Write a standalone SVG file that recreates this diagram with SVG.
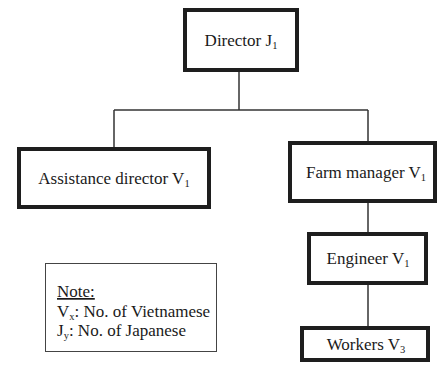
<svg xmlns="http://www.w3.org/2000/svg" width="438" height="365" viewBox="0 0 438 365">
  <style>
    .box { fill: #ffffff; stroke: #1e1e1e; stroke-width: 4; }
    .note { fill: #ffffff; stroke: #444444; stroke-width: 1; }
    .conn { fill: none; stroke: #333333; stroke-width: 1.5; }
    .lbl { font-family: 'Liberation Serif', 'Times New Roman', serif; font-size: 17px; fill: #1a1a1a; }
    .sub { font-size: 10.5px; }
  </style>
  <rect width="438" height="365" fill="#ffffff"/>

  <!-- connectors -->
  <g id="connectors">
    <line class="conn" x1="239" y1="72" x2="239" y2="110"/>
    <line class="conn" x1="114" y1="110" x2="368" y2="110"/>
    <line class="conn" x1="114" y1="110" x2="114" y2="147"/>
    <line class="conn" x1="368" y1="110" x2="368" y2="141"/>
    <line class="conn" x1="368" y1="203" x2="368" y2="232"/>
    <line class="conn" x1="368" y1="285" x2="368" y2="326"/>
  </g>

  <g id="director">
    <rect class="box" x="185" y="10" width="112" height="60"/>
    <text class="lbl" x="241" y="46" text-anchor="middle">Director J<tspan class="sub" dy="3">1</tspan></text>
  </g>

  <g id="assistance-director">
    <rect class="box" x="19" y="149" width="190" height="58"/>
    <text class="lbl" x="114" y="184" text-anchor="middle">Assistance director V<tspan class="sub" dy="3">1</tspan></text>
  </g>

  <g id="farm-manager">
    <rect class="box" x="290" y="143" width="145" height="58"/>
    <text class="lbl" x="366" y="178" text-anchor="middle">Farm manager V<tspan class="sub" dy="3">1</tspan></text>
  </g>

  <g id="engineer">
    <rect class="box" x="309" y="234" width="117" height="49"/>
    <text class="lbl" x="368" y="264" text-anchor="middle">Engineer V<tspan class="sub" dy="3">1</tspan></text>
  </g>

  <g id="workers">
    <rect class="box" x="302" y="328" width="126" height="32"/>
    <text class="lbl" x="366" y="350" text-anchor="middle">Workers V<tspan class="sub" dy="3">3</tspan></text>
  </g>

  <g id="note">
    <rect class="note" x="45.5" y="263.5" width="171" height="88"/>
    <text class="lbl" x="57" y="297" text-decoration="underline">Note:</text>
    <text class="lbl" x="57" y="317">V<tspan class="sub" dy="3">x</tspan><tspan dy="-3">: No. of Vietnamese</tspan></text>
    <text class="lbl" x="57" y="336">J<tspan class="sub" dy="3">y</tspan><tspan dy="-3">: No. of Japanese</tspan></text>
  </g>
</svg>
